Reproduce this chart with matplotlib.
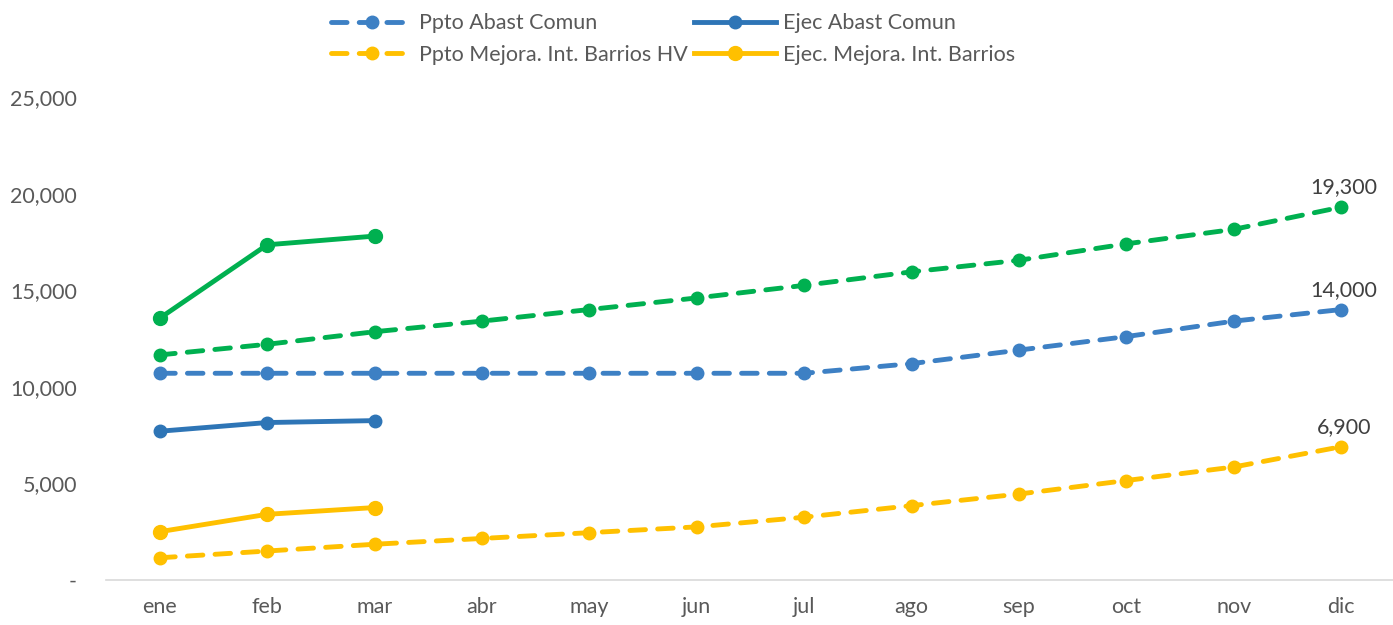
import matplotlib

matplotlib.use("Agg")
import matplotlib.pyplot as plt
import matplotlib.ticker as mticker

months = ["ene", "feb", "mar", "abr", "may", "jun", "jul", "ago", "sep", "oct", "nov", "dic"]

# budget (dashed) series, all months
ppto_abast = [10700, 10700, 10700, 10700, 10700, 10700, 10700, 11200, 11900, 12600, 13400, 14000]
ppto_barrios = [1150, 1500, 1850, 2150, 2450, 2750, 3250, 3850, 4450, 5150, 5850, 6900]
ppto_total = [11650, 12200, 12850, 13400, 14000, 14600, 15250, 15950, 16550, 17400, 18150, 19300]

# executed (solid) series, first quarter only
ejec_months = ["ene", "feb", "mar"]
ejec_abast = [7700, 8150, 8250]
ejec_barrios = [2500, 3400, 3750]
ejec_total = [13550, 17350, 17800]

BLUE = "#2E75B6"
BLUE_LIGHT = "#3D80C4"
YELLOW = "#FFC000"
GREEN = "#00B050"
TEXT = "#595959"
LW = 3.5
FS = 15.5

plt.rcParams.update({
    "font.family": ["Lato", "DejaVu Sans"],
    "font.size": FS,
})

fig = plt.figure(figsize=(13.93, 6.25), dpi=100)
ax = fig.add_axes([106 / 1393, 1 - 580 / 625, (1395 - 106) / 1393, (580 - 97) / 625])

x_all = list(range(len(months)))
x_ejec = [months.index(m) for m in ejec_months]

dash = dict(linestyle=(0, (3.2, 2.5)), dash_capstyle="round")

h1, = ax.plot(x_all, ppto_abast, color=BLUE_LIGHT, lw=LW, marker="o", ms=9, label="Ppto Abast Comun", **dash, zorder=3)
h2, = ax.plot(x_ejec, ejec_abast, color=BLUE, lw=LW, marker="o", ms=9, label="Ejec Abast Comun", zorder=3)
h3, = ax.plot(x_all, ppto_barrios, color=YELLOW, lw=LW, marker="o", ms=9, label="Ppto Mejora. Int. Barrios HV", **dash, zorder=3)
h4, = ax.plot(x_ejec, ejec_barrios, color=YELLOW, lw=LW, marker="o", ms=10, label="Ejec. Mejora. Int. Barrios", zorder=3)
ax.plot(x_all, ppto_total, color=GREEN, lw=LW, marker="o", ms=9, **dash, zorder=3)
ax.plot(x_ejec, ejec_total, color=GREEN, lw=LW, marker="o", ms=10, zorder=3)

for series in (ppto_total, ppto_abast, ppto_barrios):
    ax.annotate(f"{series[-1]:,}", (x_all[-1], series[-1]), xytext=(2, 7),
                textcoords="offset points", ha="center", va="bottom",
                color="#404040", fontsize=FS)

ax.set_xlim(-0.5, len(months) - 0.5)
ax.set_ylim(0, 25000)
ax.set_xticks(x_all)
ax.set_xticklabels(months)
ax.yaxis.set_major_locator(mticker.MultipleLocator(5000))
ax.yaxis.set_major_formatter(mticker.FuncFormatter(lambda v, p: "-" if v == 0 else f"{int(v):,}"))

for side in ("top", "right", "left"):
    ax.spines[side].set_visible(False)
ax.spines["bottom"].set_color("#D9D9D9")
ax.spines["bottom"].set_linewidth(1.2)
ax.tick_params(axis="both", length=0, colors=TEXT, labelsize=FS)
ax.tick_params(axis="x", pad=12)
ax.tick_params(axis="y", pad=21)

# matplotlib fills legend columns first: order so rows read Ppto | Ejec
leg = fig.legend([h1, h3, h2, h4], [h.get_label() for h in (h1, h3, h2, h4)],
                 loc="upper center", bbox_to_anchor=(0.483, 1.01), ncol=2, frameon=False,
                 fontsize=FS, handlelength=3.8, columnspacing=0.3, labelspacing=0.55,
                 handletextpad=0.3)
for t in leg.get_texts():
    t.set_color(TEXT)

fig.savefig("out.png", dpi=100)
